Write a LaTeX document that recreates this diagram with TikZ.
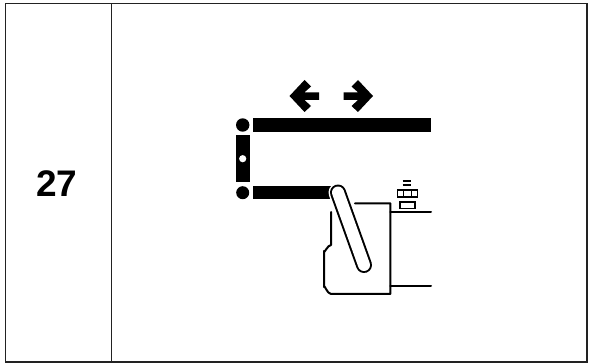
\documentclass[tikz,border=0pt]{standalone}
\usepackage{fontspec}
\setmainfont{Liberation Sans}
\definecolor{FrameGrey}{HTML}{222222}

\begin{document}
\begin{tikzpicture}[
    x=1pt, y=-1pt,
    frameline/.style={draw=FrameGrey, line width=1.7pt},
    outline/.style={draw=black, line width=2pt, line cap=round, line join=round},
    solid bar/.style={fill=black, draw=none},
    big number/.style={font=\fontsize{37}{37}\selectfont\bfseries, inner sep=0pt}
  ]
    \useasboundingbox (0,0) rectangle (589,363);
    % table cell
    \draw[frameline] (5.5,3.5) rectangle (587,362);
    \draw[frameline] (111.5,3.5) -- (111.5,362);
    \node[big number] (number) at (57,183.5) {27};
    % gates
    \fill[solid bar] (253,118) rectangle (431,132);
    \fill[solid bar] (253,186.5) rectangle (332,199);
    \fill[solid bar] (236,135.5) rectangle (249.5,182.5);
    \fill[solid bar] (242.7,125) circle (6.7);
    \fill[solid bar] (242.7,192.7) circle (6.5);
    \fill[white] (242.7,158.7) circle (3.6);
    % arrows
    \fill[solid bar] (289.5,96) -- (304.5,80) -- (311,86.5) -- (304.5,92.3) -- (319,92.3) -- (319,100) -- (304.5,100) -- (311,106) -- (304.5,112) -- cycle;
    \fill[solid bar] (373,96) -- (358,80) -- (351.5,86.5) -- (358,92.3) -- (343.5,92.3) -- (343.5,100) -- (358,100) -- (351.5,106) -- (358,112) -- cycle;
    % tower
    \draw[draw=black, line width=1.4pt] (402.7,181) -- (410.7,181) (402.7,185) -- (410.7,185);
    \draw[draw=black, line width=1.7pt] (397.5,190) rectangle (417.5,197) (403.5,190) -- (403.5,197) (411.5,190) -- (411.5,197);
    \draw[draw=black, line width=1.7pt] (400,202) rectangle (415,208.5);
    % apron and handle
    \draw[outline] (355,203.3) -- (390.3,203.3) -- (390.3,294) -- (331,294) to[out=180,in=90] (324,287) -- (324,251) to[out=-90,in=180] (331,245) -- (331,212);
    \draw[outline] (390.3,212.3) -- (431,212.3) (390.3,286.3) -- (431,286.3);
    \draw[white, line width=19pt, line cap=round] (338,192.5) -- (364,265);
    \draw[black, line width=16pt, line cap=round] (338,192.5) -- (364,265);
    \draw[white, line width=12pt, line cap=round] (338,192.5) -- (364,265);
  \end{tikzpicture}
\end{document}
